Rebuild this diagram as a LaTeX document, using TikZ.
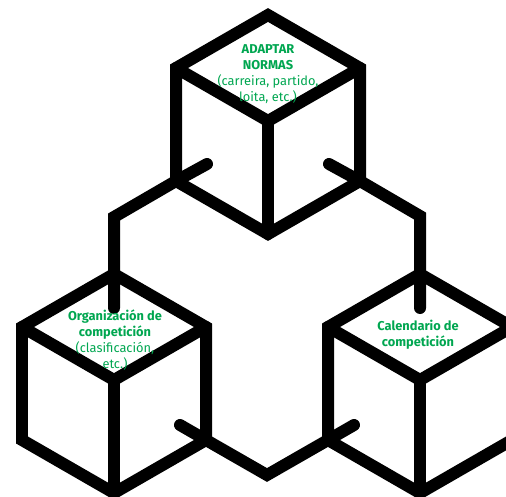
\documentclass[tikz,border=0pt]{standalone}
\usepackage{fontspec}
\setmainfont{Fira Sans}
\usepackage{tikz}
\usetikzlibrary{positioning, calc}
\definecolor{normgreen}{RGB}{0,166,80}

\begin{document}
\begin{tikzpicture}[x=0.02cm, y=-0.02cm,
    cubeline/.style={line width=0.24cm, line cap=round, line join=miter, black},
    cubetext/.style={align=center, text=normgreen, inner sep=0pt,
                     font=\fontsize{7.3}{9.1}\selectfont}]
    \useasboundingbox (0,0) rectangle (506,496);

    % Three cubes
    \foreach \n/\cx/\ty in {top/268/15, left/114/274, right/420/274} {
      \coordinate (\n-t)  at (\cx,\ty);
      \coordinate (\n-l)  at (\cx-92,\ty+53);
      \coordinate (\n-r)  at (\cx+92,\ty+53);
      \coordinate (\n-c)  at (\cx,\ty+106);
      \coordinate (\n-bl) at (\cx-92,\ty+166);
      \coordinate (\n-b)  at (\cx,\ty+219);
      \coordinate (\n-br) at (\cx+92,\ty+166);
      \draw[cubeline] (\n-t) -- (\n-r) -- (\n-br) -- (\n-b) -- (\n-bl) -- (\n-l) -- cycle;
      \draw[cubeline] (\n-l) -- (\n-c) -- (\n-r);
      \draw[cubeline] (\n-c) -- (\n-b);
    }

    % Connectors
    \coordinate (lstub) at (207,164);
    \coordinate (lbend) at (114,217);
    \coordinate (lend)  at (114,308);
    \draw[cubeline] (lstub) -- (top-bl) -- (lbend) -- (lend);

    \coordinate (rstub) at (329,164);
    \coordinate (rbend) at (420,216);
    \coordinate (rend)  at (420,308);
    \draw[cubeline] (rstub) -- (top-br) -- (rbend) -- (rend);

    \coordinate (blstub) at (180,425);
    \coordinate (bjoin)  at (267,475);
    \coordinate (brstub) at (354,425);
    \draw[cubeline] (blstub) -- (left-br) -- (bjoin) -- (right-bl) -- (brstub);

    % Labels
    \node[cubetext] (normas) at (268,74)
      {\textbf{ADAPTAR}\\\textbf{NORMAS}\\(carreira, partido,\\loita, etc.)};
    \node[cubetext] (organizacion) at (115,340)
      {\textbf{Organización de}\\\textbf{competición}\\(clasificación,\\etc.)};
    \node[cubetext] (calendario) at (418,335)
      {\textbf{Calendario de}\\\textbf{competición}};
  \end{tikzpicture}
\end{document}
